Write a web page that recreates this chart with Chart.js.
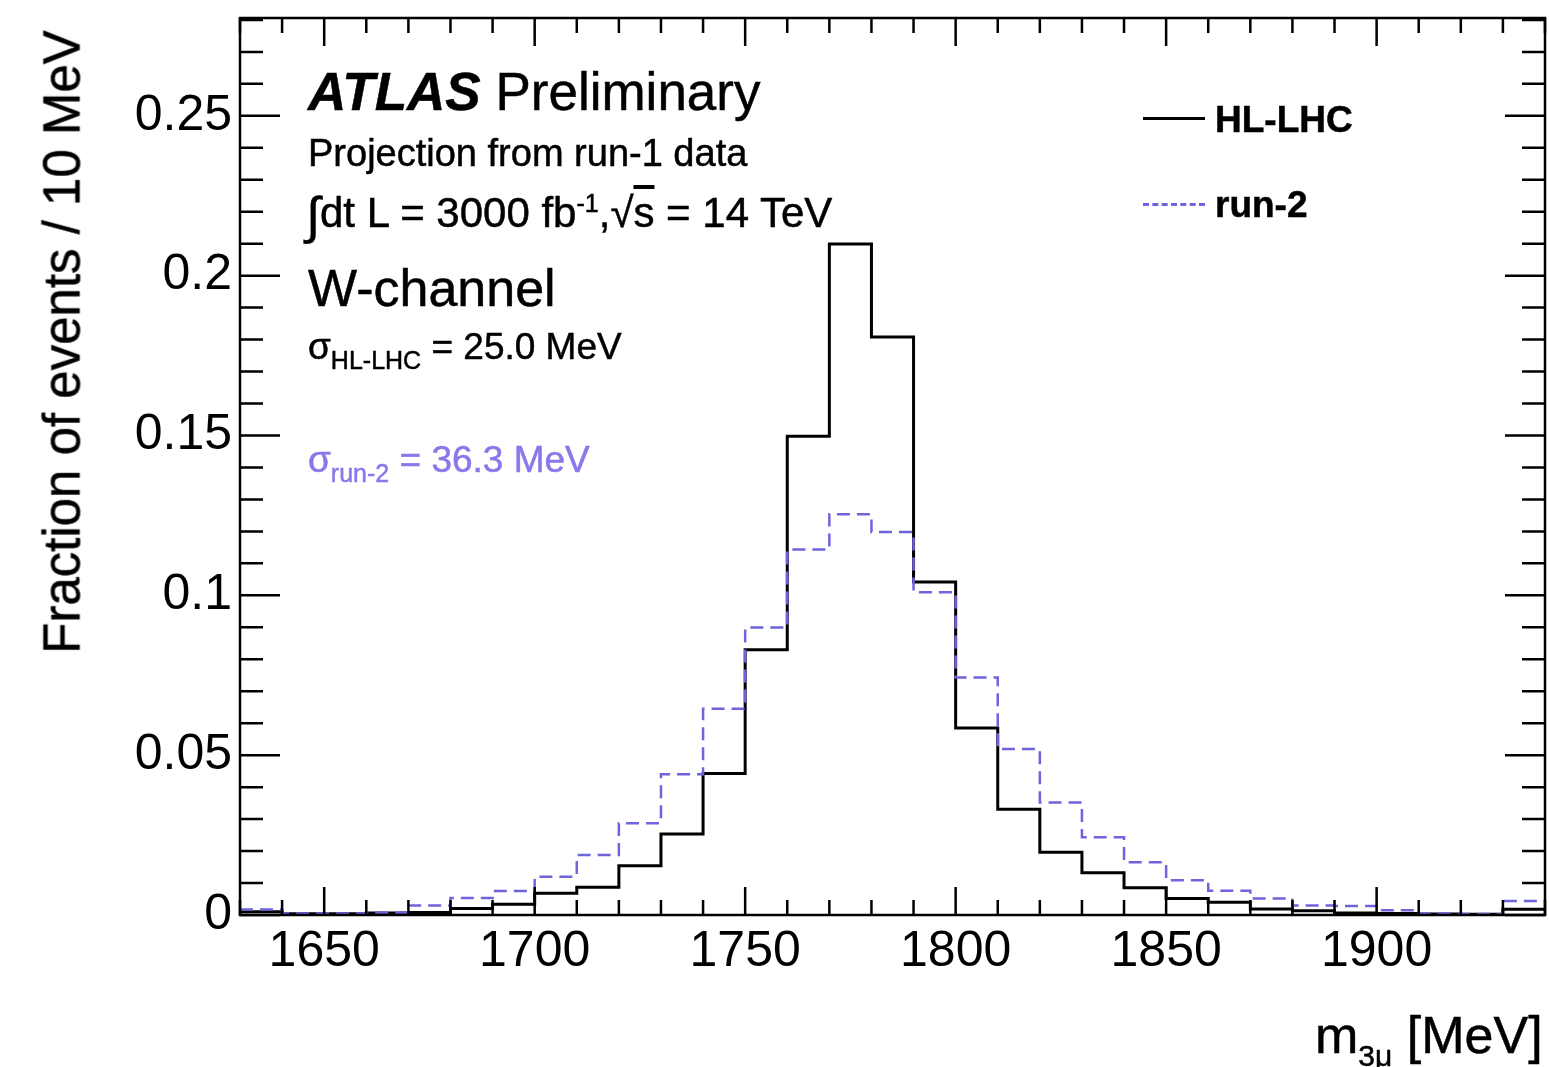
<!DOCTYPE html>
<html>
<head>
<meta charset="utf-8">
<script src="https://cdn.jsdelivr.net/npm/chart.js@4.4.1/dist/chart.umd.min.js"></script>
<style>
  html, body { margin: 0; padding: 0; background: #fff; }
  #wrap { position: relative; width: 1549px; height: 1067px; overflow: hidden; font-family: "Liberation Sans", Arial, sans-serif; color: #000; }
  #c { position: absolute; left: 0; top: 0; }
  .t { position: absolute; white-space: nowrap; line-height: 1; -webkit-text-stroke: 0.5px currentColor; }
  sub, sup { line-height: 0; }
  .leg { position: absolute; height: 0; width: 62px; }
</style>
</head>
<body>
<div id="wrap">
  <canvas id="c" width="1549" height="1067"></canvas>

  <div class="t" style="left:308px; top:65px; font-size:53px;"><b><i>ATLAS</i></b> Preliminary</div>
  <div class="t" style="left:308px; top:134px; font-size:38px;">Projection from run-1 data</div>
  <div class="t" style="left:306px; top:184px; font-size:42px;"><span style="font-size:51px; position:relative; top:6px;">∫</span>dt L = 3000 fb<sup style="font-size:25px;">-1</sup>,√<span style="text-decoration:overline;">s</span> = 14 TeV</div>
  <div class="t" style="left:308px; top:262px; font-size:52px;">W-channel</div>
  <div class="t" style="left:308px; top:328px; font-size:37px;">σ<sub style="font-size:25px; position:relative; top:2px;">HL-LHC</sub> = 25.0 MeV</div>
  <div class="t" style="left:308px; top:441px; font-size:37px; color:rgb(135,120,235);">σ<sub style="font-size:25px; position:relative; top:2px;">run-2</sub> = 36.3 MeV</div>

  <div class="leg" style="left:1143px; top:117px; border-top:3px solid #000;"></div>
  <div class="t" style="left:1215px; top:101px; font-size:37px; font-weight:bold;">HL-LHC</div>
  <div class="leg" style="left:1143px; top:203px; border-top:3px dashed rgb(110,100,220);"></div>
  <div class="t" style="left:1215px; top:186px; font-size:37px; font-weight:bold;">run-2</div>

  <div class="t" style="left:1315px; top:1009px; font-size:52px;">m<sub style="font-size:30px; position:relative; top:2px;">3μ</sub> [MeV]</div>
  <div class="t" style="left:62px; top:342px; font-size:51px; transform: translate(-50%,-50%) rotate(-90deg); transform-origin:center;">Fraction of events / 10 MeV</div>
</div>

<script>
// ---- Data ----
const binLowEdges = [1630,1640,1650,1660,1670,1680,1690,1700,1710,1720,1730,1740,1750,1760,1770,1780,1790,1800,1810,1820,1830,1840,1850,1860,1870,1880,1890,1900,1910,1920,1930];
const lastBinHighEdge = 1940;
const hlLhc = [0.0010,0.0004,0.0004,0.0006,0.0008,0.0020,0.0034,0.0068,0.0087,0.0154,0.0253,0.0443,0.0830,0.1498,0.2099,0.1808,0.1042,0.0585,0.0331,0.0196,0.0132,0.0085,0.0052,0.0040,0.0019,0.0013,0.0006,0.0005,0.0003,0.0002,0.0018];
const run2 = [0.0017,0.0005,0.0005,0.0008,0.0030,0.0053,0.0075,0.0120,0.0188,0.0287,0.0440,0.0645,0.0899,0.1143,0.1254,0.1198,0.1010,0.0743,0.0519,0.0352,0.0243,0.0165,0.0109,0.0076,0.0052,0.0030,0.0028,0.0015,0.0005,0.0003,0.0044];
const xTickLabels = [1650,1700,1750,1800,1850,1900];
const yTickLabels = [0,0.05,0.1,0.15,0.2,0.25];
const xMin = 1630, xMax = 1940, yMin = 0, yMax = 0.2806;

function histPoints(vals) {
  const pts = binLowEdges.map((x, i) => ({ x: x, y: vals[i] }));
  pts.push({ x: lastBinHighEdge, y: vals[vals.length - 1] });
  return pts;
}

const innerTicks = {
  id: 'innerTicks',
  afterDraw(chart) {
    const { ctx, chartArea: a, scales: { x, y } } = chart;
    ctx.save();
    ctx.strokeStyle = '#000';
    ctx.lineWidth = 2.5;
    ctx.beginPath();
    for (let v = xMin; v <= xMax + 1e-9; v += 10) {
      const px = x.getPixelForValue(v);
      const major = xTickLabels.includes(v);
      const len = major ? 28 : 15;
      ctx.moveTo(px, a.bottom); ctx.lineTo(px, a.bottom - len);
      ctx.moveTo(px, a.top); ctx.lineTo(px, a.top + len);
    }
    for (let k = 0; k * 0.01 <= yMax; k++) {
      const py = y.getPixelForValue(k * 0.01);
      const len = (k % 5 === 0) ? 40 : 23;
      ctx.moveTo(a.left, py); ctx.lineTo(a.left + len, py);
      ctx.moveTo(a.right, py); ctx.lineTo(a.right - len, py);
    }
    ctx.stroke();
    ctx.strokeRect(a.left, a.top, a.right - a.left, a.bottom - a.top);
    ctx.restore();
  }
};

new Chart(document.getElementById('c'), {
  type: 'line',
  data: {
    datasets: [
      {
        label: 'run-2',
        data: histPoints(run2),
        stepped: true,
        borderColor: 'rgb(110,100,220)',
        borderWidth: 2.5,
        borderDash: [13, 7],
        pointRadius: 0,
        fill: false,
        order: 1
      },
      {
        label: 'HL-LHC',
        data: histPoints(hlLhc),
        stepped: true,
        borderColor: '#000',
        borderWidth: 3,
        pointRadius: 0,
        fill: false,
        order: 2
      }
    ]
  },
  options: {
    responsive: false,
    animation: false,
    devicePixelRatio: 1,
    layout: { padding: { left: 0, right: 4, top: 18, bottom: 0 } },
    plugins: { legend: { display: false }, tooltip: { enabled: false } },
    scales: {
      x: {
        type: 'linear',
        min: xMin, max: xMax,
        grid: { display: false, drawTicks: false },
        border: { display: false },
        afterBuildTicks(s) { s.ticks = xTickLabels.map(v => ({ value: v })); },
        afterFit(s) { s.height = 152; s.paddingLeft = 0; s.paddingRight = 0; },
        ticks: {
          color: '#000',
          padding: 7,
          maxRotation: 0,
          font: { family: 'Liberation Sans', size: 50 },
          callback: v => String(v)
        }
      },
      y: {
        type: 'linear',
        min: yMin, max: yMax,
        grid: { display: false, drawTicks: false },
        border: { display: false },
        afterBuildTicks(s) { s.ticks = yTickLabels.map(v => ({ value: v })); },
        afterFit(s) { s.width = 240; s.paddingTop = 0; s.paddingBottom = 0; },
        ticks: {
          color: '#000',
          padding: 8,
          font: { family: 'Liberation Sans', size: 50 },
          callback: v => String(v)
        }
      }
    }
  },
  plugins: [innerTicks]
});
</script>
</body>
</html>
